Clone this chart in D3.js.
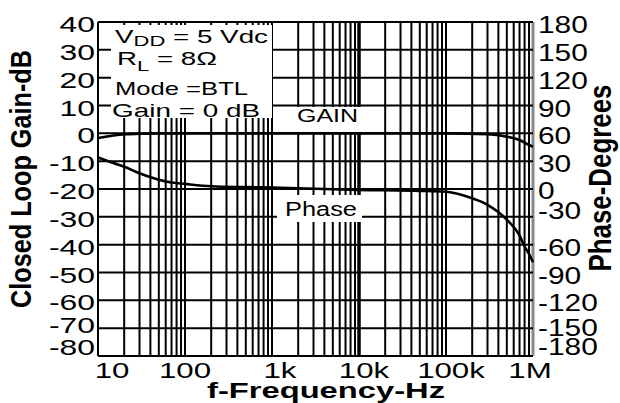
<!DOCTYPE html>
<html>
<head>
<meta charset="utf-8">
<script src="https://cdn.jsdelivr.net/npm/d3@7"></script>
<style>
  body { margin: 0; background: #fff; }
  svg { display: block; }
  text { font-family: "Liberation Sans", Arial, sans-serif; fill: #000; }
</style>
</head>
<body>
<svg width="620" height="403"></svg>
<script>

// data
var gainTicks = [40, 30, 20, 10, 0, -10, -20, -30, -40, -50, -60, -70, -80];
var phaseTicks = [180, 150, 120, 90, 60, 30, 0, -30, -60, -90, -120, -150, -180];
var freqTicks = [10, 100, 1e3, 1e4, 1e5, 1e6];
var freqLabels = ["10", "100", "1k", "10k", "100k", "1M"];

var gainFreq = [10, 15, 20, 30, 50, 100, 1e3, 1e4, 1e5, 3e5, 5e5, 7e5, 9e5, 1e6];
var gainDb   = [-1.7, -0.8, -0.35, -0.15, 0, 0, 0, 0, 0, -0.3, -1.2, -2.4, -4.2, -4.8];

var phaseFreq = [10, 15, 20, 30, 50, 70, 100, 200, 500, 1e3, 1e4, 5e4, 1e5, 2e5, 3e5, 5e5, 7e5, 8e5, 9e5, 1e6];
var phaseDeg  = [34, 28, 24, 17, 10, 7, 5.5, 3, 2, 1.5, -1, -2, -3, -10, -17, -33, -50, -62, -70, -79];

var svg = d3.select("svg");

var x = d3.scaleLog().domain([10, 1e6]).range([98, 533]);
var yGain = d3.scaleLinear().domain([-80, 40]).range([356, 22]);
var yPhase = d3.scaleLinear().domain([-180, 180]).range([356, 22]);

// helper: text squeezed wider like the scanned original
function label(g, str, px, py, size, sx, anchor, weight) {
    return g.append("text")
        .attr("transform", "translate(" + px + "," + py + ") scale(" + sx + ",1)")
        .attr("text-anchor", anchor || "start")
        .style("font-size", size + "px")
        .style("font-weight", weight || "normal")
        .text(str);
}

//grid lines
var grid = svg.append("g");

var minor = [];
for (var dec = 10; dec < 1e6; dec *= 10) {
    for (var k = 1; k < 10; k++) minor.push(dec * k);
}
minor.push(1e6);

grid.selectAll("line.v")
    .data(minor)
    .enter().append("line")
    .attr("x1", d => x(d)).attr("x2", d => x(d))
    .attr("y1", yGain(40)).attr("y2", yGain(-80))
    .attr("stroke", d => d == 1e6 ? "#8a8a8a" : "#000")
    .attr("stroke-width", d => d == 1e4 ? 3.5 : (d == 1e6 ? 3 : 2));

grid.selectAll("line.h")
    .data(gainTicks)
    .enter().append("line")
    .attr("x1", x(10)).attr("x2", x(1e6))
    .attr("y1", d => yGain(d)).attr("y2", d => yGain(d))
    .attr("stroke", "#000")
    .attr("stroke-width", 2);

// white boxes that cover the grid behind the notes
var boxes = svg.append("g");
boxes.append("rect").attr("x", 111).attr("y", 25).attr("width", 161).attr("height", 93).attr("fill", "#fff");
boxes.append("rect").attr("x", 274).attr("y", yGain(10) + 1.5).attr("width", 93).attr("height", 25).attr("fill", "#fff");
boxes.append("rect").attr("x", 277).attr("y", 195).attr("width", 85).attr("height", 27).attr("fill", "#fff");

// left border redrawn on top
svg.append("line")
    .attr("x1", x(10)).attr("x2", x(10))
    .attr("y1", yGain(40)).attr("y2", yGain(-80))
    .attr("stroke", "#000").attr("stroke-width", 2);
svg.append("line")
    .attr("x1", x(10)).attr("x2", 272)
    .attr("y1", yGain(40)).attr("y2", yGain(40))
    .attr("stroke", "#000").attr("stroke-width", 2);

//curves
var gainLine = d3.line()
    .x((d, i) => x(gainFreq[i]))
    .y(d => yGain(d))
    .curve(d3.curveMonotoneX);

var phaseLine = d3.line()
    .x((d, i) => x(phaseFreq[i]))
    .y(d => yPhase(d))
    .curve(d3.curveMonotoneX);

svg.append("path")
    .attr("d", gainLine(gainDb))
    .attr("fill", "none")
    .attr("stroke", "#000")
    .attr("stroke-width", 2.6);

svg.append("path")
    .attr("d", phaseLine(phaseDeg))
    .attr("fill", "none")
    .attr("stroke", "#000")
    .attr("stroke-width", 2.6);

//tick labels
var ticks = svg.append("g");

gainTicks.forEach(function (v) {
    var dy = 10;
    if (v == -70) dy = 5;
    if (v == -80) dy = -1;
    label(ticks, v, 95, yGain(v) + dy, 22, 1.45, "end");
});

phaseTicks.forEach(function (v) {
    var dy = 11;
    if (v == 0) dy = 10;
    if (v == -30) dy = 2;
    if (v == -150) dy = 8;
    if (v == -180) dy = -1;
    label(ticks, v, 538, yPhase(v) + dy, 23, 1.3, "start");
});

var freqShift = [14, 0, 8, 5, 5, -3];
freqTicks.forEach(function (v, i) {
    label(ticks, freqLabels[i], x(v) + freqShift[i], 378, 22, 1.42, "middle");
});

//axis titles
svg.append("text")
    .attr("transform", "translate(31,179) scale(1.2,1) rotate(-90)")
    .attr("text-anchor", "middle")
    .attr("textLength", 258)
    .attr("lengthAdjust", "spacingAndGlyphs")
    .style("font-size", "25px")
    .style("font-weight", "bold")
    .text("Closed Loop Gain-dB");

svg.append("text")
    .attr("transform", "translate(611,178) scale(1.2,1) rotate(-90)")
    .attr("text-anchor", "middle")
    .attr("textLength", 187)
    .attr("lengthAdjust", "spacingAndGlyphs")
    .style("font-size", "26px")
    .style("font-weight", "bold")
    .text("Phase-Degrees");

svg.append("text")
    .attr("x", 207)
    .attr("y", 398)
    .attr("textLength", 238)
    .attr("lengthAdjust", "spacingAndGlyphs")
    .style("font-size", "22px")
    .style("font-weight", "bold")
    .text("f-Frequency-Hz");

//notes in the box
var note = svg.append("g").style("font-size", "19px");

var t1 = note.append("text").attr("x", 115).attr("y", 43)
    .attr("textLength", 153).attr("lengthAdjust", "spacingAndGlyphs");
t1.append("tspan").text("V");
t1.append("tspan").attr("dy", 3).style("font-size", "15px").text("DD");
t1.append("tspan").attr("dy", -3).text(" = 5 Vdc");

var t2 = note.append("text").attr("x", 117).attr("y", 65)
    .attr("textLength", 100).attr("lengthAdjust", "spacingAndGlyphs");
t2.append("tspan").text("R");
t2.append("tspan").attr("dy", 6).style("font-size", "15px").text("L");
t2.append("tspan").attr("dy", -6).text(" = 8\u03A9");

note.append("text").attr("x", 115).attr("y", 95)
    .attr("textLength", 133).attr("lengthAdjust", "spacingAndGlyphs")
    .text("Mode =BTL");

note.append("text").attr("x", 112).attr("y", 117)
    .attr("textLength", 148).attr("lengthAdjust", "spacingAndGlyphs")
    .text("Gain =  0  dB");

svg.append("text").attr("x", 297).attr("y", 122)
    .attr("textLength", 61).attr("lengthAdjust", "spacingAndGlyphs")
    .style("font-size", "19px")
    .text("GAIN");

svg.append("text").attr("x", 285).attr("y", 216)
    .attr("textLength", 72).attr("lengthAdjust", "spacingAndGlyphs")
    .style("font-size", "20px")
    .text("Phase");

</script>
</body>
</html>
